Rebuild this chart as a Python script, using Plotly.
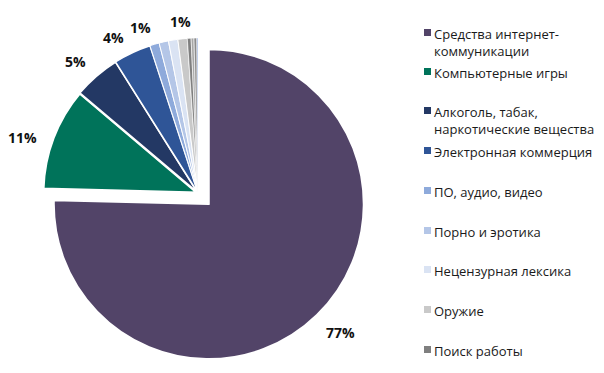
import plotly.graph_objects as go

W, H = 604, 373
OFF = 8  # page body margin offset (screen px)

categories = [
    "Средства интернет-<br>коммуникации",
    "Компьютерные игры",
    "Алкоголь, табак,<br>наркотические вещества",
    "Электронная коммерция",
    "ПО, аудио, видео",
    "Порно и эротика",
    "Нецензурная лексика",
    "Оружие",
    "Поиск работы",
    "Прочее 1",
    "Прочее 2",
    "Прочее 3",
]
values = [77, 11, 5, 4, 1, 1, 1, 1, 0.4, 0.3, 0.3, 0.12]
shown_labels = ["77%", "11%", "5%", "4%", "1%", "", "", "1%", "", "", "", ""]
legend_count = 9

colors = ["#524468", "#00735a", "#233864", "#2f5597", "#8eaadb", "#b4c6e7",
          "#dae3f3", "#c9c9c9", "#7f7f7f", "#a6a6a6", "#8c8c8c", "#9db3e0"]
line_widths = [2, 3, 2, 1.5, 1, 1, 1, 1, 0.6, 0.6, 0.6, 0.4]
pulls = [0.1] + [0] * (len(values) - 1)

# screen positions (px) of the data-label centres, as placed in the reference
label_pos_px = [(340, 332), (23, 137), (75, 62), (113, 37), (140, 27),
                None, None, (180, 21), None, None, None, None]
legend_y_px = [32, 71, 110, 150, 190, 230, 269, 309, 349]


def px_x(x):
    return (x - OFF) / W


def px_y(y):
    return 1 - (y - OFF) / H


fig = go.Figure()
fig.add_trace(go.Pie(
    labels=categories,
    values=values,
    textinfo="none",
    automargin=False,
    sort=False,
    direction="clockwise",
    rotation=0,
    pull=pulls,
    marker=dict(colors=colors, line=dict(color="white", width=line_widths)),
    domain=dict(x=[0.0, 0.629], y=[0.047, 0.961]),
    showlegend=False,
    hoverinfo="label+value",
))

shapes = []
annotations = []
for txt, pos in zip(shown_labels, label_pos_px):
    if not txt or pos is None:
        continue
    annotations.append(dict(
        x=px_x(pos[0]), y=px_y(pos[1]), xref="paper", yref="paper",
        xanchor="center", yanchor="middle", text=txt, showarrow=False,
        font=dict(family="Open Sans", size=14, color="#111111", weight="bold"),
    ))

for i in range(legend_count):
    ypx = legend_y_px[i]
    shapes.append(dict(
        type="rect", xref="paper", yref="paper",
        x0=px_x(424), x1=px_x(431),
        y0=px_y(ypx + 4), y1=px_y(ypx - 3),
        fillcolor=colors[i], line=dict(width=0),
    ))
    annotations.append(dict(
        x=px_x(432), y=px_y(ypx - 9), xref="paper", yref="paper",
        xanchor="left", yanchor="top", align="left",
        text=categories[i], showarrow=False,
        font=dict(family="Open Sans", size=13, color="#1a1a1a"),
    ))

fig.update_layout(
    width=W, height=H,
    margin=dict(l=0, r=0, t=0, b=0, autoexpand=False),
    paper_bgcolor="white", plot_bgcolor="white",
    shapes=shapes, annotations=annotations,
)

fig.write_html("out.html")
